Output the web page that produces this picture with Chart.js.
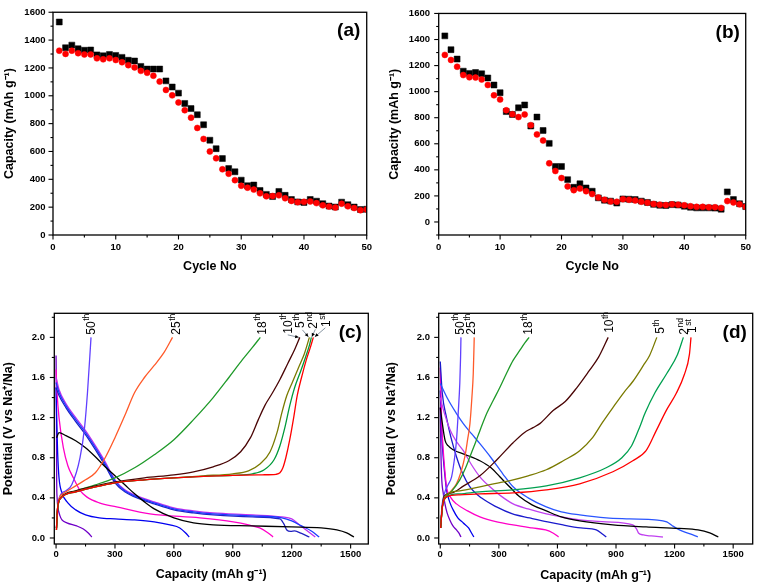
<!DOCTYPE html>
<html><head><meta charset="utf-8">
<script src="https://cdn.jsdelivr.net/npm/chart.js@4.4.1/dist/chart.umd.min.js"></script>
<style>
html,body{margin:0;padding:0;background:#fff;}
body{width:759px;height:585px;position:relative;overflow:hidden;}
canvas{position:absolute;}
</style></head><body>
<canvas id="cA" width="380" height="290" style="left:0;top:0"></canvas>
<canvas id="cB" width="379" height="290" style="left:380px;top:0"></canvas>
<canvas id="cC" width="380" height="295" style="left:0;top:290px"></canvas>
<canvas id="cD" width="379" height="295" style="left:380px;top:290px"></canvas>
<script>
// ---------- DATA ----------
const cycles = [1,2,3,4,5,6,7,8,9,10,11,12,13,14,15,16,17,18,19,20,21,22,23,24,25,26,27,28,29,30,31,32,33,34,35,36,37,38,39,40,41,42,43,44,45,46,47,48,49,50];
const aDischarge = [1530,1345,1364,1338,1327,1329,1294,1287,1297,1290,1276,1255,1250,1211,1192,1192,1192,1107,1063,1019,945,908,864,792,681,620,549,477,454,394,354,359,320,292,276,313,285,255,238,234,255,243,225,208,201,236,218,201,183,185];
const aCharge = [1324,1301,1324,1306,1297,1297,1269,1262,1269,1257,1241,1220,1204,1179,1165,1144,1102,1042,1003,952,896,843,769,690,600,551,472,440,394,354,340,326,299,278,280,285,264,245,236,238,241,229,213,204,197,225,206,194,178,183];
const bDischarge = [1428,1322,1250,1157,1140,1147,1137,1105,1051,992,847,825,876,898,736,805,702,603,426,426,325,266,293,261,236,185,167,160,145,177,175,172,160,150,135,128,126,133,130,121,113,108,108,108,106,98,231,172,140,118];
const bCharge = [1282,1243,1191,1127,1110,1108,1093,1051,972,940,857,827,805,825,743,672,625,450,391,337,273,244,256,236,214,187,170,158,155,175,170,165,155,148,138,133,130,135,133,128,121,116,116,113,113,108,160,150,135,116];

const abXTicks = [0,10,20,30,40,50];
const abXMinor = [5,15,25,35,45];
const abYTicks = [0,200,400,600,800,1000,1200,1400,1600];
const abYMinor = [100,300,500,700,900,1100,1300,1500];
const bYMinor = [-100,100,300,500,700,900,1100,1300,1500];
const cdXTicks = [0,300,600,900,1200,1500];
const cdXMinor = [150,450,750,1050,1350];
const cdYTicks = [0,0.4,0.8,1.2,1.6,2.0];
const cdYMinor = [0.2,0.6,1.0,1.4,1.8,2.2];

// panel (c): [capacity, potential]
const cCharge1 = [[2,0.08],[8,0.3],[25,0.4],[100,0.46],[200,0.51],[300,0.55],[450,0.58],[600,0.6],[750,0.615],[900,0.625],[1050,0.63],[1120,0.635],[1140,0.65],[1155,0.7],[1170,0.8],[1190,0.98],[1210,1.2],[1228,1.42],[1250,1.6],[1275,1.78],[1295,1.9],[1310,2.0]];
const cCharge2 = [[2,0.08],[8,0.3],[25,0.4],[100,0.46],[200,0.51],[300,0.55],[450,0.58],[600,0.6],[750,0.615],[900,0.625],[1000,0.64],[1060,0.68],[1110,0.78],[1140,0.92],[1165,1.1],[1190,1.32],[1215,1.5],[1245,1.66],[1270,1.8],[1290,1.92],[1300,2.0]];
const cCharge5 = [[2,0.08],[8,0.3],[25,0.4],[100,0.46],[200,0.51],[300,0.55],[450,0.58],[600,0.6],[750,0.62],[900,0.64],[980,0.67],[1040,0.74],[1090,0.86],[1125,1.05],[1150,1.25],[1175,1.42],[1205,1.56],[1235,1.7],[1265,1.84],[1290,2.0]];
const cCharge10 = [[2,0.1],[8,0.3],[25,0.4],[100,0.47],[200,0.52],[300,0.56],[450,0.6],[600,0.63],[700,0.66],[800,0.71],[880,0.77],[940,0.86],[990,1.0],[1030,1.18],[1063,1.32],[1100,1.44],[1140,1.58],[1180,1.74],[1215,1.88],[1241,2.0]];
const cCharge18 = [[2,0.1],[10,0.32],[35,0.42],[100,0.47],[200,0.53],[300,0.6],[400,0.7],[500,0.83],[600,0.98],[700,1.18],[800,1.4],[880,1.6],[950,1.78],[1000,1.9],[1040,2.0]];
const cCharge25 = [[2,0.1],[10,0.35],[35,0.44],[100,0.52],[150,0.58],[200,0.65],[250,0.8],[300,1.0],[350,1.22],[400,1.45],[450,1.6],[500,1.72],[550,1.85],[593,2.0]];
const cCharge50 = [[2,0.1],[8,0.3],[20,0.42],[50,0.47],[80,0.53],[122,0.8],[145,1.1],[160,1.45],[178,2.0]];
const cDis1 = [[3,1.0],[15,1.05],[50,1.02],[100,0.97],[150,0.9],[200,0.81],[250,0.71],[300,0.62],[350,0.53],[400,0.44],[450,0.36],[500,0.29],[600,0.2],[700,0.15],[800,0.13],[1000,0.12],[1200,0.11],[1350,0.1],[1430,0.08],[1480,0.05],[1517,0.01]];
const cDis2 = [[0,1.55],[15,1.45],[50,1.32],[100,1.18],[150,1.05],[200,0.9],[250,0.74],[300,0.57],[350,0.47],[400,0.42],[500,0.35],[600,0.29],[700,0.26],[800,0.24],[1000,0.22],[1150,0.2],[1200,0.17],[1250,0.12],[1300,0.07],[1340,0.01]];
const cDis5 = [[0,1.6],[15,1.48],[50,1.34],[100,1.2],[150,1.07],[200,0.92],[250,0.76],[300,0.58],[350,0.48],[400,0.43],[500,0.36],[600,0.3],[700,0.27],[800,0.25],[1000,0.23],[1150,0.21],[1200,0.19],[1240,0.13],[1280,0.07],[1320,0.01]];
const cDis10 = [[0,1.5],[15,1.42],[50,1.3],[100,1.16],[150,1.03],[200,0.88],[250,0.72],[300,0.55],[350,0.46],[400,0.41],[500,0.34],[600,0.28],[700,0.25],[800,0.23],[1000,0.21],[1140,0.19],[1160,0.14],[1175,0.08],[1195,0.065],[1215,0.07],[1250,0.045],[1290,0.01]];
const cDis18 = [[0,1.68],[5,1.45],[15,1.2],[37,0.9],[60,0.72],[88,0.6],[120,0.48],[156,0.41],[220,0.35],[308,0.31],[478,0.24],[732,0.2],[902,0.16],[980,0.13],[1037,0.1],[1080,0.05],[1105,0.01]];
const cDis25 = [[0,1.5],[3,1.2],[8,0.85],[15,0.6],[30,0.45],[60,0.35],[100,0.28],[150,0.23],[220,0.2],[300,0.19],[400,0.18],[500,0.16],[580,0.13],[630,0.1],[660,0.05],[678,0.01]];
const cDis50 = [[0,1.82],[2,1.2],[3,0.6],[5,0.41],[10,0.3],[20,0.22],[30,0.18],[55,0.15],[105,0.12],[139,0.09],[164,0.05],[182,0.01]];

// panel (d): [capacity, potential]
const dCharge1 = [[2,0.1],[10,0.3],[32,0.41],[100,0.43],[200,0.44],[373,0.45],[543,0.48],[714,0.54],[884,0.66],[986,0.77],[1054,0.87],[1106,1.07],[1157,1.27],[1208,1.44],[1250,1.63],[1276,1.83],[1284,2.0]];
const dCharge2 = [[2,0.1],[10,0.3],[30,0.41],[100,0.44],[200,0.46],[373,0.48],[543,0.52],[714,0.6],[850,0.7],[930,0.8],[980,0.92],[1020,1.1],[1050,1.25],[1100,1.45],[1160,1.64],[1215,1.83],[1245,2.0]];
const dCharge5 = [[2,0.1],[10,0.3],[25,0.42],[100,0.47],[203,0.51],[300,0.55],[373,0.58],[450,0.62],[543,0.68],[630,0.77],[714,0.87],[780,1.0],[830,1.15],[884,1.3],[940,1.45],[986,1.56],[1040,1.72],[1072,1.82],[1109,2.0]];
const dCharge10 = [[2,0.1],[10,0.3],[20,0.42],[60,0.45],[120,0.52],[203,0.62],[290,0.78],[373,0.95],[430,1.05],[475,1.1],[510,1.14],[578,1.27],[640,1.36],[700,1.5],[760,1.66],[810,1.8],[860,2.0]];
const dCharge18 = [[2,0.1],[10,0.3],[30,0.41],[60,0.47],[100,0.58],[130,0.7],[152,0.81],[180,0.95],[203,1.07],[240,1.25],[271,1.37],[305,1.5],[339,1.64],[373,1.77],[407,1.87],[435,1.95],[455,2.0]];
const dCharge25 = [[2,0.1],[10,0.3],[32,0.41],[60,0.48],[83,0.54],[105,0.65],[126,0.81],[140,0.98],[152,1.14],[162,1.4],[169,1.64],[174,2.0]];
const dCharge50 = [[2,0.1],[8,0.3],[24,0.46],[40,0.53],[58,0.61],[70,0.75],[83,0.97],[92,1.25],[100,1.54],[104,1.8],[106,2.0]];
const dDis1 = [[0,1.3],[10,1.15],[25,0.97],[40,0.92],[66,0.88],[130,0.83],[203,0.77],[260,0.7],[305,0.61],[360,0.5],[407,0.41],[470,0.33],[543,0.27],[620,0.21],[714,0.17],[884,0.13],[1054,0.11],[1225,0.095],[1320,0.08],[1380,0.05],[1424,0.01]];
const dDis2 = [[0,1.54],[40,1.38],[80,1.25],[118,1.14],[160,1.04],[203,0.94],[260,0.8],[320,0.64],[373,0.51],[450,0.4],[543,0.31],[620,0.26],[714,0.23],[850,0.2],[969,0.19],[1100,0.18],[1160,0.16],[1190,0.12],[1225,0.08],[1280,0.04],[1319,0.01]];
const dDis5 = [[0,1.4],[20,1.25],[50,1.08],[80,0.97],[118,0.87],[160,0.73],[203,0.61],[260,0.5],[310,0.42],[373,0.34],[450,0.29],[543,0.24],[620,0.21],[714,0.18],[850,0.16],[986,0.13],[1005,0.09],[1015,0.05],[1040,0.03],[1080,0.02],[1140,0.01]];
const dDis10 = [[0,1.76],[10,1.45],[32,1.2],[55,1.0],[83,0.81],[115,0.64],[152,0.51],[210,0.4],[288,0.31],[370,0.24],[458,0.2],[550,0.16],[629,0.13],[720,0.1],[799,0.08],[830,0.04],[850,0.01]];
const dDis18 = [[0,1.7],[4,1.4],[8,1.1],[12,0.97],[20,0.75],[32,0.51],[55,0.4],[83,0.34],[140,0.27],[203,0.21],[290,0.16],[373,0.13],[470,0.1],[540,0.08],[577,0.05],[606,0.01]];
const dDis25 = [[0,1.47],[5,1.2],[10,0.95],[15,0.81],[25,0.6],[32,0.48],[50,0.35],[66,0.28],[90,0.2],[118,0.15],[145,0.1],[160,0.05],[172,0.01]];
const dDis50 = [[0,1.3],[3,0.9],[7,0.61],[15,0.45],[24,0.34],[35,0.25],[49,0.18],[65,0.12],[83,0.08],[95,0.05],[106,0.01]];

// ---------- STYLE / BUILD ----------
const FONT = '"Liberation Sans", Arial, Helvetica, sans-serif';
const tickFont = {family: FONT, size: 9.5, weight: 'bold', lineHeight: 1};
const titleFont = {family: FONT, size: 12.5, weight: 'bold', lineHeight: 1.2};

const framePlugin = {
  id: 'frame',
  afterDraw(chart, args, o) {
    const ctx = chart.ctx, a = chart.chartArea, xs = chart.scales.x, ys = chart.scales.y;
    const seg = (x1, y1, x2, y2) => { ctx.beginPath(); ctx.moveTo(x1, y1); ctx.lineTo(x2, y2); ctx.stroke(); };
    ctx.save();
    ctx.strokeStyle = '#000'; ctx.lineWidth = 1.3;
    ctx.strokeRect(a.left, a.top, a.right - a.left, a.bottom - a.top);
    ctx.lineWidth = 1.1;
    o.xMajor.forEach(v => { const p = xs.getPixelForValue(v); seg(p, a.bottom, p, a.bottom + 4.5); });
    o.xMinor.forEach(v => { const p = xs.getPixelForValue(v); seg(p, a.bottom, p, a.bottom + 2.5); });
    o.yMajor.forEach(v => { const p = ys.getPixelForValue(v); seg(a.left, p, a.left - 4.5, p); });
    o.yMinor.forEach(v => { const p = ys.getPixelForValue(v); seg(a.left, p, a.left - 2.5, p); });
    ctx.fillStyle = '#000';
    ctx.font = 'bold 19px ' + FONT; ctx.textAlign = 'center'; ctx.textBaseline = 'middle';
    ctx.fillText(o.panel, a.right - 18, a.top + 19);
    (o.labels || []).forEach(L => {
      const ex = xs.getPixelForValue(L.at[0]), ey = ys.getPixelForValue(L.at[1]);
      if (L.arrow) {
        const sx = ex + L.arrow[0], sy = ey + L.arrow[1], tx = ex + L.arrow[2], ty = ey + L.arrow[3];
        ctx.strokeStyle = '#6a7a8a'; ctx.lineWidth = 0.8; seg(sx, sy, tx, ty);
        const ang = Math.atan2(ty - sy, tx - sx), h = 4;
        ctx.fillStyle = '#000'; ctx.beginPath(); ctx.moveTo(tx, ty);
        ctx.lineTo(tx - h * Math.cos(ang - 0.45), ty - h * Math.sin(ang - 0.45));
        ctx.lineTo(tx - h * Math.cos(ang + 0.45), ty - h * Math.sin(ang + 0.45));
        ctx.closePath(); ctx.fill();
      }
      ctx.save();
      ctx.translate(ex + L.dx, ey + L.dy); ctx.rotate(-Math.PI / 2);
      ctx.fillStyle = '#000'; ctx.textAlign = 'left'; ctx.textBaseline = 'alphabetic';
      ctx.font = '12px ' + FONT; ctx.fillText(L.num, 0, 0);
      const w = ctx.measureText(L.num).width;
      ctx.font = '8.5px ' + FONT; ctx.fillText(L.sup, w + 0.5, -5.5);
      ctx.restore();
    });
    ctx.restore();
  }
};

function scales(cfg) {
  return {
    x: {
      type: 'linear', min: cfg.xMin, max: cfg.xMax,
      grid: {display: false, drawTicks: false}, border: {display: false},
      afterBuildTicks: s => { s.ticks = cfg.xTicks.map(v => ({value: v})); },
      afterFit: s => { s.height = cfg.xH; },
      ticks: {padding: cfg.xPad, color: '#000', font: tickFont, maxRotation: 0, autoSkip: false, callback: v => String(v)},
      title: {display: true, text: cfg.xTitle, color: '#000', font: titleFont, padding: {top: 0, bottom: cfg.xTitlePad}}
    },
    y: {
      type: 'linear', min: cfg.yMin, max: cfg.yMax,
      grid: {display: false, drawTicks: false}, border: {display: false},
      afterBuildTicks: s => { s.ticks = cfg.yTicks.map(v => ({value: v})); },
      afterFit: s => { s.width = cfg.yW; },
      ticks: {padding: cfg.yPad, color: '#000', font: tickFont, autoSkip: false, callback: cfg.yFmt || (v => String(v))},
      title: {display: true, text: cfg.yTitle, color: '#000', font: titleFont, padding: {top: cfg.yTitlePad, bottom: 0}}
    }
  };
}

function scatterChart(id, dis, chg, cfg, frame) {
  return new Chart(document.getElementById(id), {
    type: 'scatter',
    data: {
      datasets: [
        {data: cycles.map((c, i) => ({x: c, y: chg[i]})), pointStyle: 'circle', pointRadius: 3, backgroundColor: '#ff0000', borderColor: '#ff0000', borderWidth: 0.5, clip: 0},
        {data: cycles.map((c, i) => ({x: c, y: dis[i]})), pointStyle: 'rect', pointRadius: 4.2, backgroundColor: '#000000', borderColor: '#000000', borderWidth: 0.5, clip: 0}
      ]
    },
    options: {
      responsive: false, animation: false, devicePixelRatio: 1,
      layout: {padding: cfg.pad},
      plugins: {legend: {display: false}, tooltip: {enabled: false}, frame: frame},
      scales: scales(cfg)
    },
    plugins: [framePlugin]
  });
}

function curveChart(id, curves, cfg, frame) {
  return new Chart(document.getElementById(id), {
    type: 'line',
    data: {
      datasets: curves.map(c => ({
        data: c.pts.map(p => ({x: p[0], y: p[1]})),
        borderColor: c.color, borderWidth: 1.3, pointRadius: 0, fill: false,
        cubicInterpolationMode: 'monotone', clip: 0
      }))
    },
    options: {
      responsive: false, animation: false, devicePixelRatio: 1,
      layout: {padding: cfg.pad},
      plugins: {legend: {display: false}, tooltip: {enabled: false}, frame: frame},
      scales: scales(cfg)
    },
    plugins: [framePlugin]
  });
}

const capTitle = 'Capacity (mAh g\u207B\u00B9)';
const potTitle = 'Potential (V vs Na\u207A/Na)';
const last = a => a[a.length - 1];

scatterChart('cA', aDischarge, aCharge, {
  xMin: 0, xMax: 50, yMin: 0, yMax: 1600, xTicks: abXTicks, yTicks: abYTicks,
  xH: 55, yW: 53, xPad: 8, yPad: 7.5, xTitle: 'Cycle No', yTitle: capTitle, xTitlePad: 15.5, yTitlePad: 2.5,
  pad: {top: 5, right: 12, left: 0, bottom: 0}
}, {panel: '(a)', xMajor: abXTicks, xMinor: abXMinor, yMajor: abYTicks, yMinor: abYMinor});

scatterChart('cB', bDischarge, bCharge, {
  xMin: 0, xMax: 50, yMin: -100, yMax: 1600, xTicks: abXTicks, yTicks: abYTicks,
  xH: 55, yW: 58.7, xPad: 8, yPad: 8.7, xTitle: 'Cycle No', yTitle: capTitle, xTitlePad: 15.5, yTitlePad: 7.5,
  pad: {top: 5, right: 6.3, left: 0, bottom: 0}
}, {panel: '(b)', xMajor: abXTicks, xMinor: abXMinor, yMajor: abYTicks, yMinor: bYMinor});

const fmt1 = v => Number(v).toFixed(1);

curveChart('cC', [
  {pts: cCharge1, color: '#ff0000'}, {pts: cCharge2, color: '#009a3a'}, {pts: cCharge5, color: '#7a7a00'},
  {pts: cCharge10, color: '#4a0505'}, {pts: cCharge18, color: '#1f9a2a'}, {pts: cCharge25, color: '#ff5a2a'},
  {pts: cCharge50, color: '#6040ff'},
  {pts: cDis1, color: '#000000'}, {pts: cDis2, color: '#1a3cff'}, {pts: cDis5, color: '#c030f0'},
  {pts: cDis10, color: '#2020c0'}, {pts: cDis18, color: '#ff00c8'}, {pts: cDis25, color: '#0000f0'},
  {pts: cDis50, color: '#7000c8'}
], {
  xMin: -9, xMax: 1590, yMin: -0.06, yMax: 2.24, xTicks: cdXTicks, yTicks: cdYTicks, yFmt: fmt1,
  xH: 41, yW: 54.3, xPad: 6, yPad: 9.3, xTitle: capTitle, yTitle: potTitle, xTitlePad: 2.5, yTitlePad: 0.8,
  pad: {top: 23.3, right: 11.7, left: 0, bottom: 0}
}, {panel: '(c)', xMajor: cdXTicks, xMinor: cdXMinor, yMajor: cdYTicks, yMinor: cdYMinor,
  labels: [
    {num: '50', sup: 'th', at: last(cCharge50), dx: 3.8, dy: -2.7},
    {num: '25', sup: 'th', at: last(cCharge25), dx: 7.8, dy: -2.7},
    {num: '18', sup: 'th', at: last(cCharge18), dx: 5.5, dy: -2.7},
    {num: '10', sup: 'th', at: last(cCharge10), dx: -7.8, dy: -3.7, arrow: [-12, -2.5, -1, 0]},
    {num: '5', sup: 'th', at: last(cCharge5), dx: -5.2, dy: -9.4, arrow: [-7, -7.5, -1, -0.5]},
    {num: '2', sup: 'nd', at: last(cCharge2), dx: 6.1, dy: -8.7, arrow: [4, -8, 0.5, -0.5]},
    {num: '1', sup: 'st', at: last(cCharge1), dx: 16.8, dy: -10.4, arrow: [12, -9.5, 1.5, -0.5]}
  ]});

curveChart('cD', [
  {pts: dCharge1, color: '#ff0000'}, {pts: dCharge2, color: '#00a050'}, {pts: dCharge5, color: '#7a7a00'},
  {pts: dCharge10, color: '#4a0505'}, {pts: dCharge18, color: '#1f9a2a'}, {pts: dCharge25, color: '#ff5a2a'},
  {pts: dCharge50, color: '#6040ff'},
  {pts: dDis1, color: '#000000'}, {pts: dDis2, color: '#2a55ff'}, {pts: dDis5, color: '#c040f0'},
  {pts: dDis10, color: '#1a1acc'}, {pts: dDis18, color: '#ff00c8'}, {pts: dDis25, color: '#0000f0'},
  {pts: dDis50, color: '#7000c8'}
], {
  xMin: -8, xMax: 1600, yMin: -0.06, yMax: 2.24, xTicks: cdXTicks, yTicks: cdYTicks, yFmt: fmt1,
  xH: 41, yW: 58.7, xPad: 6, yPad: 8.7, xTitle: capTitle, yTitle: potTitle, xTitlePad: 1.5, yTitlePad: 4.2,
  pad: {top: 23.3, right: 6.3, left: 0, bottom: 0}
}, {panel: '(d)', xMajor: cdXTicks, xMinor: cdXMinor, yMajor: cdYTicks, yMinor: cdYMinor,
  labels: [
    {num: '50', sup: 'th', at: last(dCharge50), dx: 2.8, dy: -2.7},
    {num: '25', sup: 'th', at: last(dCharge25), dx: 1.2, dy: -2.7},
    {num: '18', sup: 'th', at: last(dCharge18), dx: 3.2, dy: -2.7},
    {num: '10', sup: 'th', at: last(dCharge10), dx: 5.1, dy: -4.5},
    {num: '5', sup: 'th', at: last(dCharge5), dx: 7.2, dy: -3.7},
    {num: '2', sup: 'nd', at: last(dCharge2), dx: 4.8, dy: -2.7},
    {num: '1', sup: 'st', at: last(dCharge1), dx: 5.5, dy: -4.4}
  ]});
</script>
</body></html>
